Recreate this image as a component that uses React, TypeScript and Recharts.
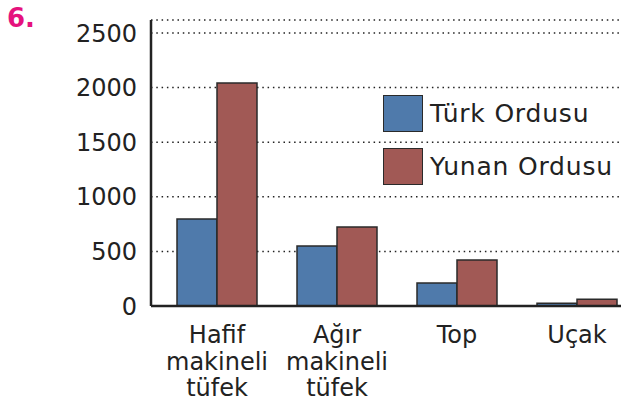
import { BarChart, Bar, XAxis, YAxis, CartesianGrid, Legend } from "recharts"

const categories = ["Hafif makineli tüfek", "Ağır makineli tüfek", "Top", "Uçak"]
const categoryLines = [["Hafif", "makineli", "tüfek"], ["Ağır", "makineli", "tüfek"], ["Top"], ["Uçak"]]
const turk = [797, 549, 211, 25]
const yunan = [2042, 723, 421, 61]
const yTicks = [0, 500, 1000, 1500, 2000, 2500]
const seriesNames = ["Türk Ordusu", "Yunan Ordusu"]

const data = categories.map((c, i) => ({ name: c, turk: turk[i], yunan: yunan[i] }))

const FONT = '"Comic Sans MS", "DejaVu Sans", sans-serif'
const BLUE = "#4f7aab"
const RED = "#a15955"
const INK = "#222"

function CatTick(props: any) {
  const { x, y, payload } = props
  const lines = categoryLines[payload.index] || [payload.value]
  return (
    <text x={x} y={y} textAnchor="middle" fontFamily={FONT} fontSize={24} fill={INK}>
      {lines.map((l: string, i: number) => (
        <tspan key={i} x={x} y={y + 37 + i * 26.5}>
          {l}
        </tspan>
      ))}
    </text>
  )
}

function LegendBox() {
  const colors = [BLUE, RED]
  return (
    <div style={{ fontFamily: FONT, fontSize: 25, letterSpacing: 0.8, color: INK }}>
      {seriesNames.map((n, i) => (
        <div key={n} style={{ display: "flex", alignItems: "center", height: 37, marginBottom: 16 }}>
          <div
            style={{
              width: 38,
              height: 35,
              background: colors[i],
              border: "1.5px solid #2a2a2a",
              marginRight: 7,
            }}
          />
          <span>{n}</span>
        </div>
      ))}
    </div>
  )
}

export default function App() {
  return (
    <div style={{ position: "absolute", left: 0, top: 0, width: 621, height: 404, overflow: "hidden", background: "#fff" }}>
      <div
        style={{
          position: "absolute",
          left: 7,
          top: 3,
          fontFamily: FONT,
          fontWeight: "bold",
          fontSize: 26,
          color: "#e5127d",
          zIndex: 2,
        }}
      >
        6.
      </div>
      <BarChart
        width={640}
        height={404}
        data={data}
        margin={{ top: 20, right: 3, left: 0, bottom: 0 }}
        barGap={0}
        barCategoryGap={20}
      >
        <CartesianGrid vertical={false} stroke={INK} strokeWidth={1.5} strokeDasharray="1.5 3.8" />
        <XAxis
          dataKey="name"
          height={98}
          padding={{ left: 6, right: 0 }}
          tickLine={false}
          tickSize={0}
          tickMargin={0}
          axisLine={{ stroke: INK, strokeWidth: 2.5 }}
          tick={<CatTick />}
          interval={0}
        />
        <YAxis
          width={151}
          domain={[0, 2619]}
          ticks={yTicks}
          tickLine={false}
          tickSize={0}
          tickMargin={14}
          axisLine={{ stroke: INK, strokeWidth: 2.5 }}
          tick={{ fontFamily: FONT, fontSize: 24, fill: INK }}
        />
        <Legend
          layout="vertical"
          align="center"
          verticalAlign="middle"
          content={<LegendBox />}
          wrapperStyle={{ position: "absolute", left: 383, top: 95, width: 240 }}
        />
        <Bar dataKey="turk" name={seriesNames[0]} fill={BLUE} stroke="#2a2a2a" strokeWidth={1.5} isAnimationActive={false} />
        <Bar dataKey="yunan" name={seriesNames[1]} fill={RED} stroke="#2a2a2a" strokeWidth={1.5} isAnimationActive={false} />
      </BarChart>
    </div>
  )
}
